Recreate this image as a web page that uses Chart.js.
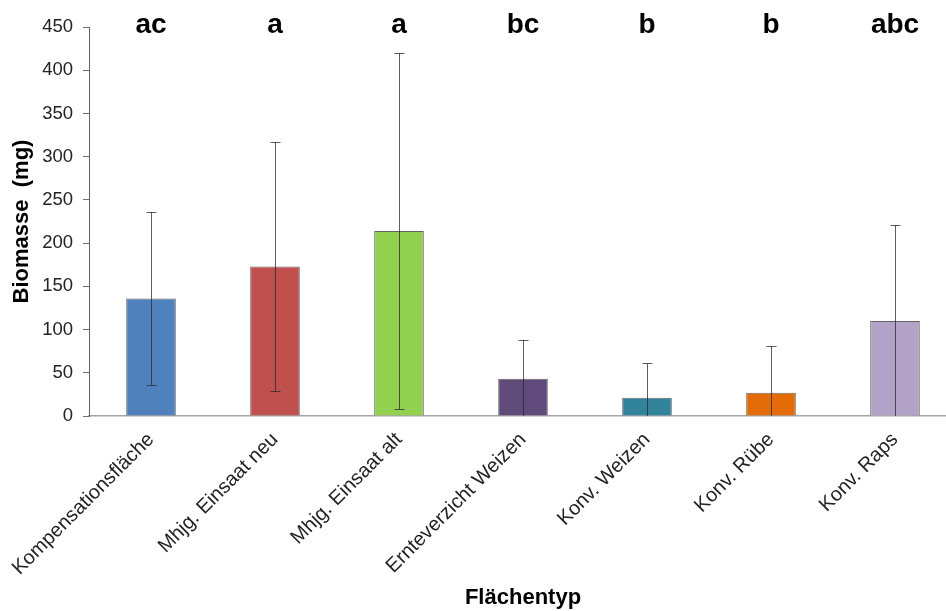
<!DOCTYPE html>
<html>
<head>
<meta charset="utf-8">
<script src="https://cdn.jsdelivr.net/npm/chart.js@4/dist/chart.umd.min.js"></script>
<style>
  html, body { margin: 0; padding: 0; background: #fff; overflow: hidden; }
  #wrap { width: 960px; height: 611px; }
</style>
</head>
<body>
<div id="wrap"><canvas id="chart"></canvas></div>
<script>
// ---------- Data ----------
const categories = ['Kompensationsfläche', 'Mhjg. Einsaat neu', 'Mhjg. Einsaat alt',
  'Ernteverzicht Weizen', 'Konv. Weizen', 'Konv. Rübe', 'Konv. Raps'];
const biomass = [136, 173, 214, 43, 21, 27, 110];
const biomassSd = [100, 144, 206, 45, 40, 54, 111];
const groupLetters = ['ac', 'a', 'a', 'bc', 'b', 'b', 'abc'];
const barColors = ['#4F81BD', '#C0504D', '#92D050', '#604A7B', '#31849B', '#E36C09', '#B3A2C7'];
const yTicks = [0, 50, 100, 150, 200, 250, 300, 350, 400, 450];

// ---------- Plugins ----------
const errorBars = {
  id: 'errorBars',
  afterDatasetsDraw(chart) {
    const { ctx, scales: { x, y } } = chart;
    ctx.save();
    ctx.strokeStyle = 'rgba(40,40,40,0.75)';
    ctx.lineWidth = 1;
    biomass.forEach((v, i) => {
      const px = Math.round(x.getPixelForValue(i)) + 0.5;
      const hi = y.getPixelForValue(v + biomassSd[i]);
      const loVal = v - biomassSd[i];
      const lo = y.getPixelForValue(Math.max(0, loVal));
      ctx.beginPath();
      ctx.moveTo(px, hi);
      ctx.lineTo(px, lo);
      ctx.moveTo(px - 5, Math.round(hi) + 0.5);
      ctx.lineTo(px + 5, Math.round(hi) + 0.5);
      if (loVal > 0) {
        ctx.moveTo(px - 5, Math.round(lo) + 0.5);
        ctx.lineTo(px + 5, Math.round(lo) + 0.5);
      }
      ctx.stroke();
    });
    ctx.restore();
  }
};

const letters = {
  id: 'letters',
  afterDraw(chart) {
    const { ctx, scales: { x } } = chart;
    ctx.save();
    ctx.font = 'bold 28px Arial, "Liberation Sans", sans-serif';
    ctx.fillStyle = '#000';
    ctx.textAlign = 'center';
    ctx.textBaseline = 'middle';
    groupLetters.forEach((t, i) => ctx.fillText(t, x.getPixelForValue(i), 25));
    ctx.restore();
  }
};

// ---------- Chart ----------
Chart.defaults.font.family = 'Arial, "Liberation Sans", sans-serif';

new Chart(document.getElementById('chart'), {
  type: 'bar',
  data: {
    labels: categories,
    datasets: [{
      data: biomass,
      backgroundColor: barColors,
      borderColor: 'rgba(60,60,60,0.8)',
      borderWidth: 1,
      barPercentage: 0.4,
      categoryPercentage: 1
    }]
  },
  options: {
    responsive: true,
    maintainAspectRatio: false,
    animation: false,
    layout: { padding: { top: 27, right: 3, left: 0, bottom: 0 } },
    plugins: { legend: { display: false }, tooltip: { enabled: false } },
    scales: {
      x: {
        grid: { display: false, drawTicks: false },
        border: { color: '#a6a6a6', width: 1.5 },
        ticks: { color: '#222', font: { size: 20 }, minRotation: 45, maxRotation: 45, padding: 12 },
        title: { display: true, text: 'Flächentyp', color: '#000',
          font: { size: 22, weight: 'bold' }, padding: { top: 0, bottom: 0 } },
        afterFit(scale) {
          scale.height = 611 - 416;
          scale.paddingLeft = 0;
          scale.paddingRight = 0;
        }
      },
      y: {
        min: 0,
        max: 450,
        afterBuildTicks(scale) { scale.ticks = yTicks.map(v => ({ value: v })); },
        grid: { drawOnChartArea: false, drawTicks: true, tickLength: 6, color: '#707070' },
        border: { color: '#606060' },
        ticks: { color: '#222', font: { size: 18.5 }, padding: 10 },
        title: { display: true, text: 'Biomasse  (mg)', color: '#000',
          font: { size: 22, weight: 'bold' }, padding: { top: 9, bottom: 0 } },
        afterFit(scale) { scale.width = 89; }
      }
    }
  },
  plugins: [errorBars, letters]
});
</script>
</body>
</html>
